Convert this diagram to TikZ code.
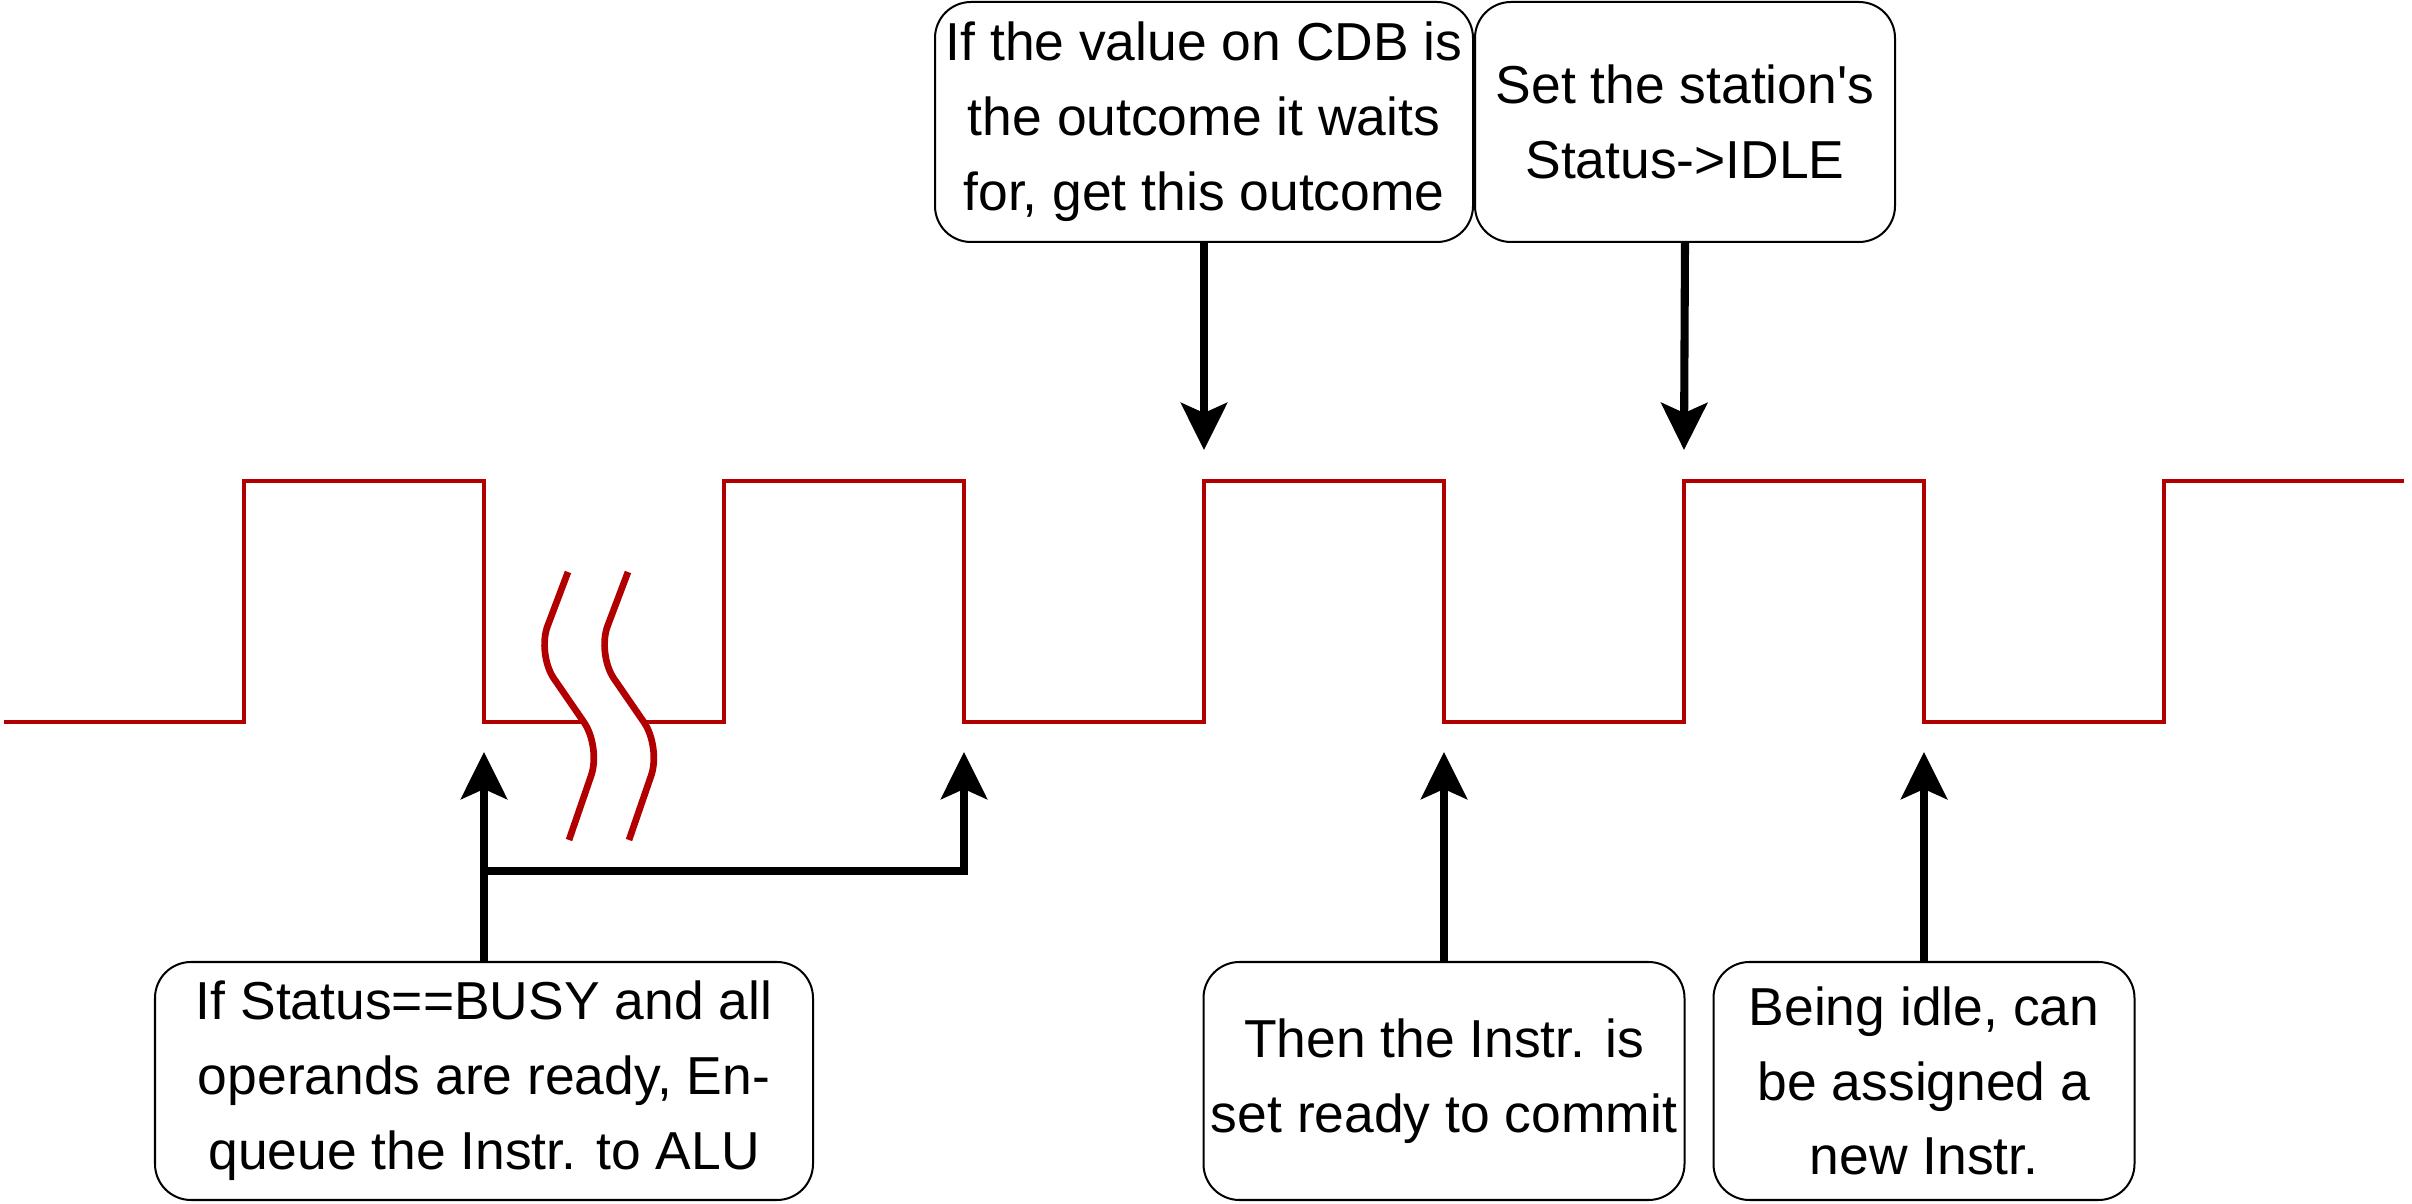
\documentclass[tikz,border=0pt]{standalone}
\usepackage{fontspec}
\setmainfont{Liberation Sans}
\usepackage{tikz}
\usetikzlibrary{positioning,arrows.meta}
\definecolor{clockred}{HTML}{B20000}

\begin{document}
\begin{tikzpicture}[every node/.style={font=\fontsize{15.2}{21.3}\selectfont},
    note/.style={draw,line width=0.57pt,rounded corners=0.36cm,align=center,inner sep=0pt},
    hint/.style={line width=2.3pt,-{Stealth[length=0.47cm,width=0.46cm,inset=0.1cm]}},
    clk/.style={clockred,line width=1.15pt},
    brk/.style={clockred,line width=1.9pt,rounded corners=0.3cm}]
      \useasboundingbox (0,0) rectangle (24.12,12.03);
      % clock signal, broken after the first cycle
      \draw[clk] (0.04,4.81) -- (2.44,4.81) -- (2.44,7.22) -- (4.84,7.22) -- (4.84,4.81) -- (5.83,4.81);
      \draw[clk] (6.43,4.81) -- (7.24,4.81) -- (7.24,7.22) -- (9.64,7.22) -- (9.64,4.81) --
        (12.04,4.81) -- (12.04,7.22) -- (14.44,7.22) -- (14.44,4.81) --
        (16.84,4.81) -- (16.84,7.22) -- (19.24,7.22) -- (19.24,4.81) --
        (21.64,4.81) -- (21.64,7.22) -- (24.04,7.22);
      % break marks
      \draw[brk] (5.68,6.31) -- (5.37,5.49) -- (6.01,4.56) -- (5.69,3.63);
      \draw[brk] (6.28,6.31) -- (5.97,5.49) -- (6.61,4.56) -- (6.29,3.63);
      % notes above
      \node[note,minimum width=5.38cm,minimum height=2.40cm] (cdb) at (12.04,10.81)
        {If the value on CDB is\\the outcome it waits\\for, get this outcome};
      \node[note,minimum width=4.20cm,minimum height=2.40cm] (idle) at (16.85,10.81)
        {Set the station\textquotesingle s\\Status->IDLE};
      % notes below
      \node[note,minimum width=6.58cm,minimum height=2.38cm] (issue) at (4.84,1.22)
        {If Status==BUSY and all\\operands are ready, En-\\queue the Instr. to ALU};
      \node[note,minimum width=4.81cm,minimum height=2.38cm] (commit) at (14.44,1.22)
        {Then the Instr. is\\set ready to commit};
      \node[note,minimum width=4.21cm,minimum height=2.38cm] (free) at (19.24,1.22)
        {Being idle, can\\be assigned a\\new Instr.};
      % arrow ends at the clock edges
      \coordinate (e1) at (4.84,4.51);
      \coordinate (e2) at (9.64,4.51);
      \coordinate (e3) at (12.04,7.53);
      \coordinate (e4) at (16.84,7.53);
      \coordinate (e5) at (14.44,4.51);
      \coordinate (e6) at (19.24,4.51);
      \coordinate (bar) at (0,3.32);
      % arrows
      \draw[hint] (issue.north) -- (e1);
      \draw[hint] (issue.north) -- (issue.north |- bar) -| (e2);
      \draw[hint] (cdb.south) -- (e3);
      \draw[hint] (idle.south) -- (e4);
      \draw[hint] (commit.north) -- (e5);
      \draw[hint] (free.north) -- (e6);
    \end{tikzpicture}
\end{document}
